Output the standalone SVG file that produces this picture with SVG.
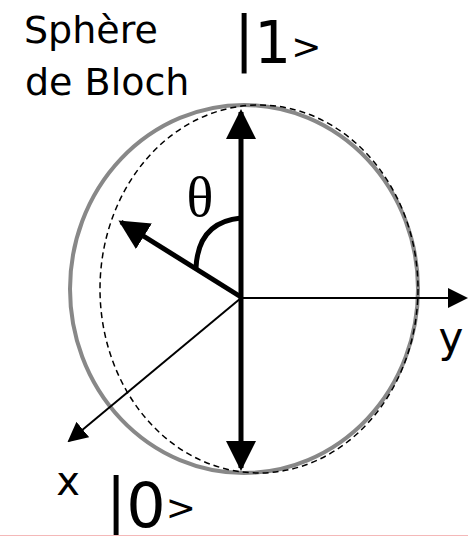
<svg xmlns="http://www.w3.org/2000/svg" width="468" height="536" viewBox="0 0 468 536">
<style>
.lbl{font-family:"DejaVu Sans","Liberation Sans",sans-serif;fill:#000}
.c{text-anchor:middle}
</style>
<defs>
<marker id="ah" viewBox="0 0 10 10" refX="9" refY="5" markerWidth="6" markerHeight="6" markerUnits="strokeWidth" orient="auto-start-reverse"><path d="M0,0 L10,5 L0,10 Z" fill="#000"/></marker>
<marker id="ahs" viewBox="0 0 10 10" refX="9" refY="5" markerWidth="10" markerHeight="10" markerUnits="strokeWidth" orient="auto"><path d="M0,0 L10,5 L0,10 Z" fill="#000"/></marker>
</defs>
<rect width="468" height="536" fill="#fff"/>
<g id="sphere">
<ellipse cx="244" cy="289" rx="174" ry="184" fill="none" stroke="#888" stroke-width="4"/>
<ellipse cx="259" cy="289" rx="159" ry="184" fill="none" stroke="#000" stroke-width="1.5" stroke-dasharray="6,4"/>
</g>
<g id="connectors">
<line x1="241" y1="298" x2="466" y2="298" stroke="#000" stroke-width="2" marker-end="url(#ahs)"/>
<line x1="241" y1="298" x2="69" y2="441" stroke="#000" stroke-width="2" marker-end="url(#ahs)"/>
<line x1="241" y1="112" x2="241" y2="468" stroke="#000" stroke-width="5" marker-start="url(#ah)" marker-end="url(#ah)"/>
<line x1="241" y1="297" x2="121" y2="222" stroke="#000" stroke-width="5" marker-end="url(#ah)"/>
<path d="M241,218 Q198,222 196,268" fill="none" stroke="#000" stroke-width="5"/>
</g>
<g id="title">
<text class="lbl" x="24" y="43" font-size="38">Sphère</text>
<text class="lbl" x="25" y="95" font-size="38">de Bloch</text>
</g>
<g id="ket1">
<text class="lbl" x="234" y="59" font-size="60">|<tspan font-size="58" dy="4">1</tspan><tspan font-size="36" dy="-4">&gt;</tspan></text>
</g>
<g id="ket0">
<text class="lbl" x="106" y="521" font-size="60">|<tspan font-size="62" dy="6">0</tspan><tspan font-size="36" dy="-7">&gt;</tspan></text>
</g>
<g id="axis-labels">
<text class="c" x="200" y="216" font-family="Liberation Serif,serif" font-size="56">θ</text>
<text class="lbl c" x="451" y="352" font-size="42">y</text>
<text class="lbl c" x="68" y="495" font-size="40">x</text>
</g>
<line x1="0" y1="535.5" x2="468" y2="535.5" stroke="#f4b8b8" stroke-width="1"/>
</svg>
